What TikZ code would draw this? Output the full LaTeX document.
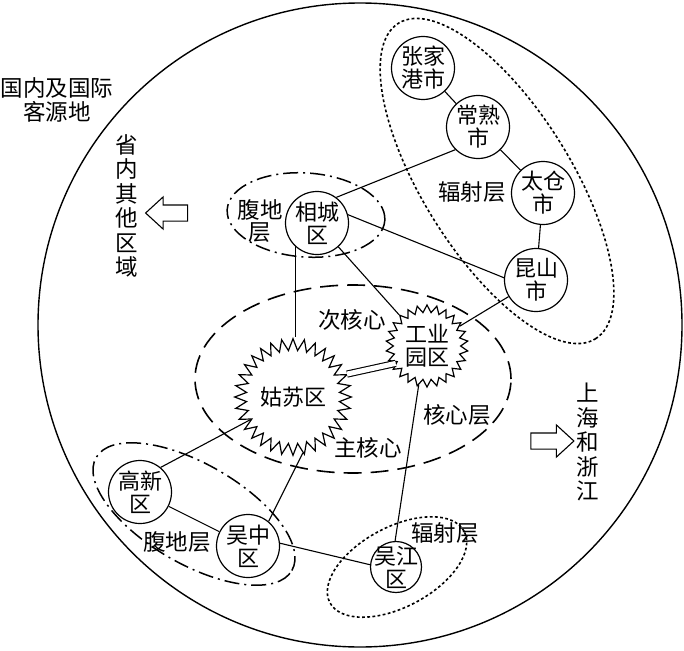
\documentclass[tikz,border=0pt]{standalone}
\usepackage{fontspec}
\newfontfamily\cjk{Noto Sans CJK SC}
\usetikzlibrary{shapes.geometric,shapes.arrows,calc}
\begin{document}
\begin{tikzpicture}[x=1pt,y=-1pt,
  txt/.style={font=\cjk\fontsize{22.5}{24.5}\selectfont, align=center, inner sep=0pt},
  city/.style={circle, draw, line width=1.2pt, minimum size=63pt, inner sep=0pt, align=center, font=\cjk\fontsize{22}{23}\selectfont},
  core/.style={star, draw, line width=1.2pt, inner sep=0pt, align=center, font=\cjk\fontsize{22}{23}\selectfont},
  link/.style={line width=1.1pt},
  dotring/.style={line width=1.6pt, dash pattern=on 2.8pt off 2.4pt},
  dashring/.style={line width=1.6pt, dash pattern=on 18pt off 9pt},
  dotdashring/.style={line width=1.5pt, dash pattern=on 15pt off 5pt on 2pt off 5pt},
  blockarrow/.style={single arrow, draw, line width=1.1pt, inner sep=7.5pt, single arrow head extend=8pt, single arrow tip angle=85}
]
\useasboundingbox (0,0) rectangle (684,650);

% outer circle
\draw[line width=1.4pt] (360,325) circle [radius=322pt];

% layer rings
\draw[dotring, rotate around={-58:(497,181)}] (497,181) ellipse [x radius=186pt, y radius=74pt];
\draw[dotdashring, rotate around={-4:(306,215)}] (306,215) ellipse [x radius=79pt, y radius=42pt];
\draw[dashring] (353,379) ellipse [x radius=158pt, y radius=94pt];
\draw[dotdashring, rotate around={-30:(194,514)}] (194,514) ellipse [x radius=113pt, y radius=50pt];
\draw[dotring, rotate around={28:(397,567)}] (397,567) ellipse [x radius=76pt, y radius=40pt];

% nodes
\node[city] (zjg) at (423,68) {张家\\港市};
\node[city] (cs) at (478,127) {常熟\\市};
\node[city] (tc) at (543,193) {太仓\\市};
\node[city] (ks) at (536,280) {昆山\\市};
\node[city] (xc) at (317,223) {相城\\区};
\node[city] (gx) at (140,492) {高新\\区};
\node[city] (wz) at (248,546) {吴中\\区};
\node[city, minimum size=51pt, inner sep=-6pt] (wj) at (396,567) {吴江\\区};
\node[core, star points=32, star point ratio=1.25, minimum size=115pt] (gs) at (293,397) {姑苏区};
\node[core, star points=26, star point ratio=1.22, minimum size=82pt] (gy) at (427,346) {工业\\园区};

% labels
\node[txt] (l1) at (57,100) {国内及国际\\客源地};
\node[txt] (l2) at (127,206) {省\\内\\其\\他\\区\\域};
\node[txt] (l3) at (588,442) {上\\海\\和\\浙\\江};
\node[txt, font=\cjk\fontsize{22.5}{22}\selectfont] (l4) at (260,221) {腹地\\层};
\node[txt] (l5) at (472,192) {辐射层};
\node[txt] (l6) at (352,320) {次核心};
\node[txt] (l7) at (368,448) {主核心};
\node[txt] (l8) at (457,415) {核心层};
\node[txt] (l9) at (177,542) {腹地层};
\node[txt] (l10) at (445,533) {辐射层};

% block arrows
\node[blockarrow, minimum height=42pt, shape border rotate=180] (a1) at (171,213) {};
\node[blockarrow, minimum height=43pt] (a2) at (548,441) {};

% connectors
\draw[link] (zjg) -- (cs);
\draw[link] (cs) -- (tc);
\draw[link] (tc) -- (ks);
\draw[link] (xc.53) -- (cs.225);
\draw[link] (xc.15) -- (ks.176);
\draw[link] (xc) -- (gy);
\draw[link] (xc.-133) -- (xc.-133 |- gs.north);
\draw[link] (ks) -- (gy);
\draw[link, double, double distance=5pt] (gs.23) -- (gy.209);
\draw[link] (gx.50) -- (gs.208);
\draw[link] (gs.-80) -- (wz.50);
\draw[link] (gx) -- (wz);
\draw[link] (wz.5) -- (wj.175);
\draw[link] (gy.-102) -- (wj.92);
\end{tikzpicture}
\end{document}
